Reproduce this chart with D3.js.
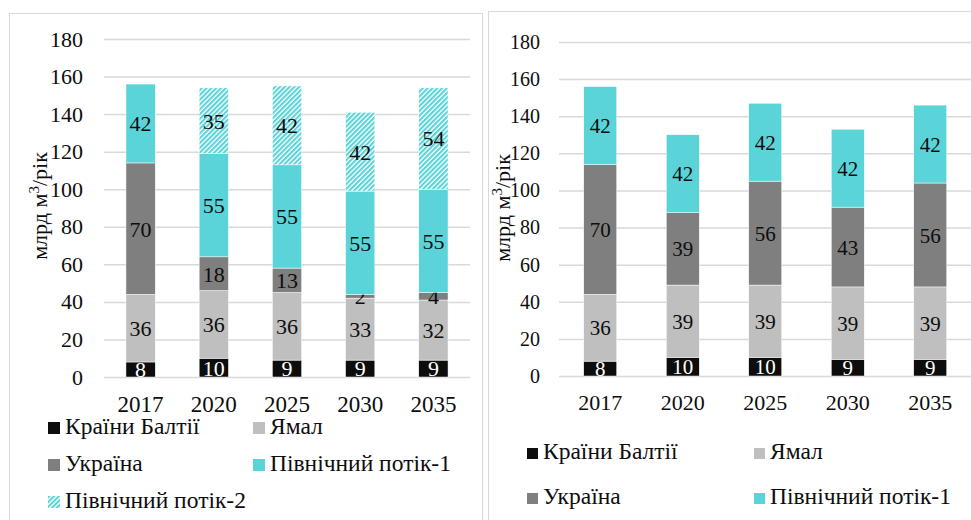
<!DOCTYPE html>
<html>
<head>
<meta charset="utf-8">
<script src="https://d3js.org/d3.v7.min.js"></script>
<style>
  body { margin: 0; background: #fff; }
  svg text { font-family: "Liberation Serif", "DejaVu Serif", "Times New Roman", serif; fill: #0d0d0d; }
</style>
</head>
<body>
<svg width="971" height="520"></svg>
<script>
// data
var years = ["2017", "2020", "2025", "2030", "2035"];
var seriesNames = ["Країни Балтії", "Ямал", "Україна", "Північний потік-1", "Північний потік-2"];

// left chart (with Північний потік-2)
var baltic1 = [8, 10, 9, 9, 9];
var yamal1 = [36, 36, 36, 33, 32];
var ukraine1 = [70, 18, 13, 2, 4];
var ns1a = [42, 55, 55, 55, 55];
var ns2a = [0, 35, 42, 42, 54];

// right chart (without Північний потік-2)
var baltic2 = [8, 10, 10, 9, 9];
var yamal2 = [36, 39, 39, 39, 39];
var ukraine2 = [70, 39, 56, 43, 56];
var ns1b = [42, 42, 42, 42, 42];

var yTicks = [0, 20, 40, 60, 80, 100, 120, 140, 160, 180];

var colors = ["#0d0d0d", "#bfbfbf", "#7f7f7f", "#5bd4d9", "url(#hatch)"];
var labelColors = ["#ffffff", "#0d0d0d", "#0d0d0d", "#0d0d0d", "#0d0d0d"];
var FONT = "'Liberation Serif', 'DejaVu Serif', serif";

var svg = d3.select("svg");

// hatch pattern for Північний потік-2
var defs = svg.append("defs");
var pat = defs.append("pattern")
    .attr("id", "hatch")
    .attr("patternUnits", "userSpaceOnUse")
    .attr("width", 3.4).attr("height", 3.4)
    .attr("patternTransform", "rotate(45)");
pat.append("rect").attr("width", 3.4).attr("height", 3.4).attr("fill", "#ffffff");
pat.append("rect").attr("width", 2.1).attr("height", 3.4).attr("fill", "#5bd4d9");

// panel borders
svg.append("rect").attr("x", 9.5).attr("y", 13.5).attr("width", 473).attr("height", 530)
    .attr("fill", "none").attr("stroke", "#d9d9d9");
svg.append("rect").attr("x", 488.5).attr("y", 11.5).attr("width", 500).attr("height", 530)
    .attr("fill", "none").attr("stroke", "#d9d9d9");

function drawChart(cfg) {
  var g = svg.append("g").attr("font-family", FONT);
  var n = cfg.series.length;

  var x = d3.scaleBand().domain(years).range(cfg.xRange).paddingInner(0.6).paddingOuter(0.3);
  var y = d3.scaleLinear().domain([0, 180]).range(cfg.yRange);

  // gridlines + y tick labels
  var yAxis = g.append("g")
      .attr("transform", "translate(" + cfg.xRange[0] + ",0)")
      .call(d3.axisLeft(y).tickValues(yTicks)
        .tickSize(-(cfg.xRange[1] - cfg.xRange[0]))
        .tickPadding(cfg.tickPad));
  yAxis.attr("font-family", FONT);
  yAxis.select(".domain").remove();
  yAxis.selectAll(".tick line").attr("stroke", "#d9d9d9").attr("stroke-width", 1.5);
  yAxis.selectAll(".tick text").attr("font-size", cfg.tickFont + "px")
      .attr("font-family", FONT).attr("fill", "#0d0d0d");

  // x labels
  g.selectAll(".xlab").data(years).enter().append("text")
      .attr("class", "xlab")
      .attr("x", function(d) { return x(d) + x.bandwidth() / 2; })
      .attr("y", cfg.xLabY)
      .attr("text-anchor", "middle")
      .attr("font-family", FONT)
      .attr("font-size", cfg.xFont + "px")
      .text(function(d) { return d; });

  // stacked data
  var rows = years.map(function(yr, i) {
    var r = { year: yr };
    for (var k = 0; k < n; k++) r["s" + k] = cfg.series[k][i];
    return r;
  });
  var keys = d3.range(n).map(function(k) { return "s" + k; });
  var stacked = d3.stack().keys(keys)(rows);

  var layers = g.selectAll(".layer").data(stacked).enter().append("g")
      .attr("class", "layer");

  layers.each(function(layer, k) {
    var sel = d3.select(this);
    var segs = layer.filter(function(d) { return d[1] - d[0] > 0; });
    sel.selectAll("rect").data(segs).enter().append("rect")
        .attr("x", function(d) { return x(d.data.year); })
        .attr("y", function(d) { return y(d[1]); })
        .attr("width", x.bandwidth())
        .attr("height", function(d) { return y(d[0]) - y(d[1]); })
        .attr("fill", colors[k])
        .attr("stroke", "#ffffff").attr("stroke-width", 0.5);
    sel.selectAll("text").data(segs).enter().append("text")
        .attr("x", function(d) { return x(d.data.year) + x.bandwidth() / 2; })
        .attr("y", function(d) { return (y(d[0]) + y(d[1])) / 2; })
        .attr("dy", "0.36em")
        .attr("text-anchor", "middle")
        .attr("font-family", FONT)
        .attr("font-size", cfg.valFont + "px")
        .style("fill", labelColors[k])
        .text(function(d) { return d[1] - d[0]; });
  });

  // y axis title
  var t = g.append("text")
      .attr("transform", "translate(" + cfg.titleX + "," + cfg.titleY + ") rotate(-90)")
      .attr("text-anchor", "middle")
      .attr("font-family", FONT)
      .attr("font-size", "22px");
  t.append("tspan").text("млрд м");
  t.append("tspan").attr("dy", -8).attr("font-size", "15px").text("3");
  t.append("tspan").attr("dy", 8).text("/рік");

  // legend
  var leg = g.selectAll(".leg").data(d3.range(n)).enter().append("g")
      .attr("class", "leg")
      .attr("transform", function(k) {
        return "translate(" + (cfg.legX + (k % 2) * cfg.legColW) + "," + (cfg.legY + Math.floor(k / 2) * cfg.legRowH) + ")";
      });
  leg.append("rect").attr("width", cfg.legBox).attr("height", cfg.legBox)
      .attr("fill", function(k) { return colors[k]; });
  leg.append("text")
      .attr("x", cfg.legBox + 5)
      .attr("y", cfg.legBox)
      .attr("font-family", FONT)
      .attr("font-size", "23.5px")
      .text(function(k) { return seriesNames[k]; });
}

drawChart({
  series: [baltic1, yamal1, ukraine1, ns1a, ns2a],
  xRange: [104, 470], yRange: [377, 39],
  tickPad: 21, tickFont: 22, xFont: 23, valFont: 22, xLabY: 412,
  titleX: 47, titleY: 206,
  legX: 48, legY: 422, legColW: 205, legRowH: 37, legBox: 12
});

drawChart({
  series: [baltic2, yamal2, ukraine2, ns1b],
  xRange: [559, 971.5], yRange: [376, 42],
  tickPad: 19, tickFont: 20, xFont: 22, valFont: 21, xLabY: 410,
  titleX: 510, titleY: 208,
  legX: 527, legY: 448, legColW: 227, legRowH: 45, legBox: 11
});
</script>
</body>
</html>
